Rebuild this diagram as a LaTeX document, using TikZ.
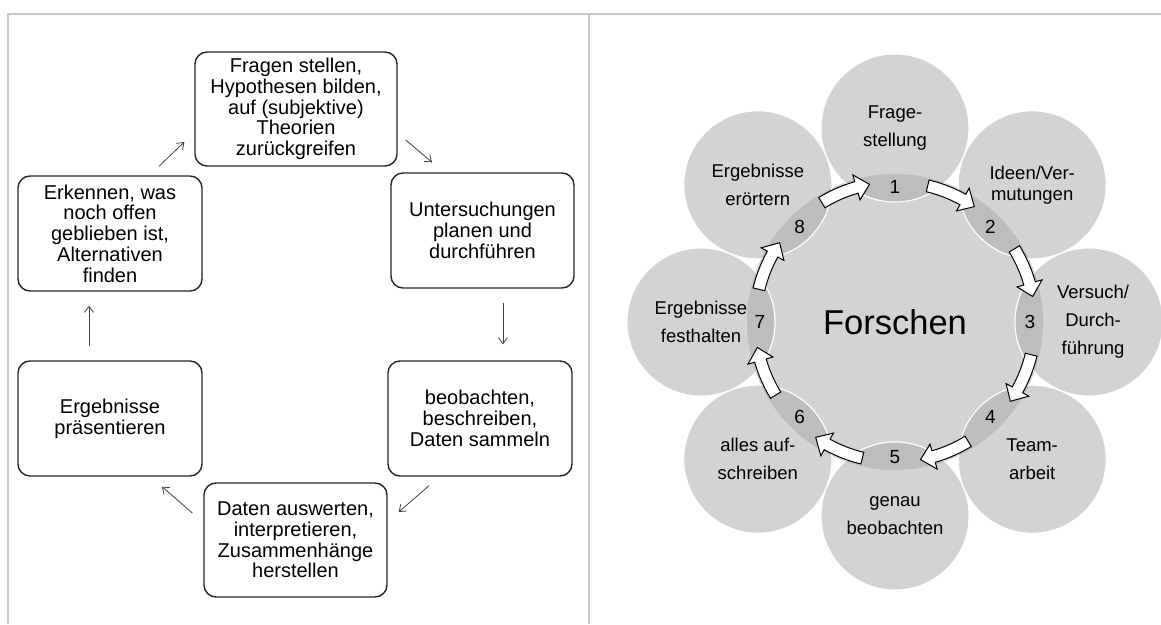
\documentclass[tikz,border=0pt]{standalone}
\usepackage{fontspec}
\setmainfont{Liberation Sans}
\usetikzlibrary{arrows.meta, calc}
\definecolor{framegray}{HTML}{C8C8C8}
\definecolor{petalgray}{HTML}{D3D3D3}
\definecolor{lensgray}{HTML}{BDBDBD}
\tikzset{
    stepbox/.style={draw=black!85, line width=1.4pt, rounded corners=12pt,
        align=center, inner sep=0pt, font=\fontsize{20}{20.7}\selectfont},
    flow/.style={draw=black!75, line width=.8pt,
        -{Straight Barb[length=6pt, width=9pt]}},
    petaltext/.style={align=center, font=\fontsize{18.5}{28}\selectfont},
    ringnum/.style={font=\fontsize{19}{19}\selectfont},
    ringarrow/.style={draw=black, line width=1pt, fill=white},
}

\begin{document}
\begin{tikzpicture}[x=1pt, y=1pt]
        \useasboundingbox (0,0) rectangle (1161,624);
        \draw[framegray, line width=1.5pt] (8,0) -- (8,610) -- (1161,610);
        \draw[framegray, line width=1.5pt] (589,0) -- (589,610);

        % left: cycle of boxes
        \node[stepbox, minimum width=202pt, minimum height=114pt] (frage)
            at (296,515) {Fragen stellen,\\Hypothesen bilden,\\auf (subjektive)\\Theorien\\zurückgreifen};
        \node[stepbox, minimum width=183pt, minimum height=115pt] (untersuch)
            at (482.5,393.5) {Untersuchungen\\planen und\\durchführen};
        \node[stepbox, minimum width=184pt, minimum height=115pt] (beob)
            at (480,205.5) {beobachten,\\beschreiben,\\Daten sammeln};
        \node[stepbox, minimum width=183pt, minimum height=114pt] (daten)
            at (295.5,84) {Daten auswerten,\\interpretieren,\\Zusammenhänge\\herstellen};
        \node[stepbox, minimum width=184pt, minimum height=115pt] (praes)
            at (110,205.5) {Ergebnisse\\präsentieren};
        \node[stepbox, minimum width=184pt, minimum height=115pt] (erkennen)
            at (110,390.5) {Erkennen, was\\noch offen\\geblieben ist,\\Alternativen\\finden};
        \draw[flow] ($(erkennen.north)+(49,9)$) -- ($(frage.west)+(-10,-33)$);
        \draw[flow] ($(frage.east)+(8,-31)$) -- ($(untersuch.north)+(-50.5,10)$);
        \draw[flow] ($(untersuch.south)+(20.5,-14)$) -- ($(beob.north)+(23,16)$);
        \draw[flow] ($(beob.south)+(-51,-9)$) -- ($(daten.east)+(11,28)$);
        \draw[flow] ($(daten.west)+(-11,27)$) -- ($(praes.south)+(52,-10)$);
        \draw[flow] ($(praes.north)+(-21,14)$) -- ($(erkennen.south)+(-21,-14)$);

        % right: ring of petals
        \coordinate (hub) at (895,302);
        \begin{scope}[shift={(hub)}]
            \fill[petalgray] (0,0) circle (148pt);
            \foreach \t in {90,45,...,-225} \filldraw[fill=petalgray, draw=white,
                line width=1pt] (\t:194) circle (74pt);
            \begin{scope}
                \clip (0,0) circle (148pt);
                \foreach \t in {90,45,...,-225} \filldraw[fill=lensgray,
                    draw=white, line width=1pt] (\t:194) circle (74pt);
            \end{scope}
            \foreach \t [count=\i] in {90,45,...,-225}
                \node[ringnum] (num\i) at (\t:135) {\i};
            \foreach \t in {90,45,...,-225} \draw[ringarrow] ({\t-13.5}:146)
                arc[start angle=\t-13.5, end angle=\t-29, radius=146pt]
                -- ({\t-29}:153) -- ({\t-34.5}:140) -- ({\t-29}:127)
                -- ({\t-29}:134)
                arc[start angle=\t-29, end angle=\t-13.5, radius=134pt] -- cycle;
            \node[petaltext] (petal1) at (90:194) {Frage-\\stellung};
            \node[petaltext, font=\fontsize{18.5}{21}\selectfont] (petal2)
                at (45:194) {Ideen/Ver-\\mutungen};
            \node[petaltext] (petal3) at ($(0:194)+(4,0)$) {Versuch/\\Durch-\\führung};
            \node[petaltext] (petal4) at (-45:194) {Team-\\arbeit};
            \node[petaltext] (petal5) at (-90:194) {genau\\beobachten};
            \node[petaltext] (petal6) at (-135:194) {alles auf-\\schreiben};
            \node[petaltext] (petal7) at (180:194) {Ergebnisse\\festhalten};
            \node[petaltext] (petal8) at (135:194) {Ergebnisse\\erörtern};
            \node[font=\fontsize{34.5}{34.5}\selectfont] (forschen) at (0,0) {Forschen};
        \end{scope}
    \end{tikzpicture}
\end{document}
